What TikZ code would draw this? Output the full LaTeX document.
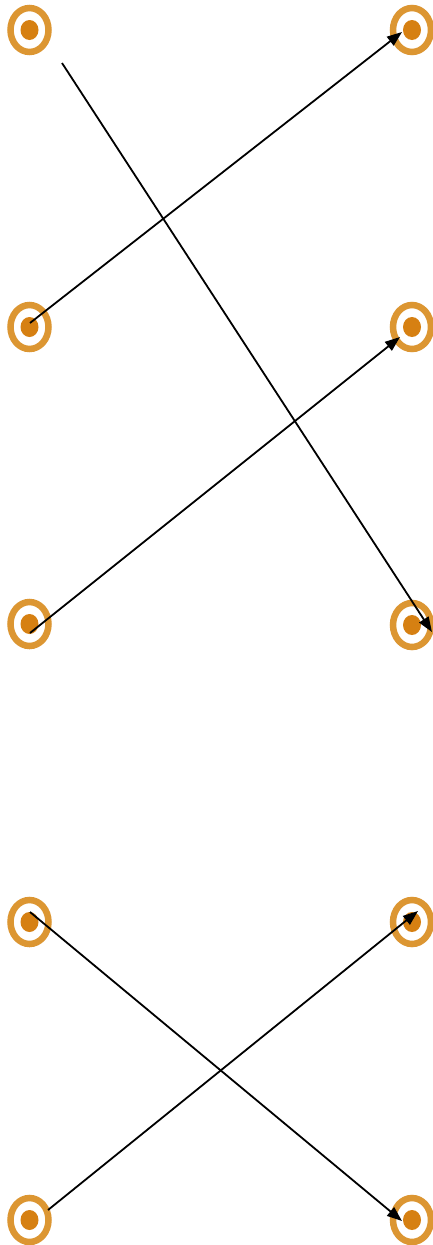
\documentclass[tikz,border=0pt]{standalone}
\usetikzlibrary{shapes.geometric,arrows.meta,calc}
\definecolor{ringc}{RGB}{220,150,50}
\definecolor{dotc}{RGB}{214,128,18}
\begin{document}
\begin{tikzpicture}[x=1pt,y=-1pt,
  target/.style={ellipse,draw=ringc,line width=6.5pt,minimum width=38pt,minimum height=44pt,inner sep=0pt,
    path picture={\fill[dotc] (path picture bounding box.center) ellipse (9pt and 10pt);}},
  conn/.style={line width=1.8pt,-{Triangle[length=15pt,width=11pt]}}]
\useasboundingbox (0,0) rectangle (432,1245);
\fill[white] (0,0) rectangle (432,1245);
\node[target] (L1) at (29.5,30) {};
\node[target] (L2) at (29.5,327) {};
\node[target] (L3) at (29.5,624) {};
\node[target] (L4) at (29.5,922) {};
\node[target] (L5) at (29.5,1220) {};
\node[target] (R1) at (412,30) {};
\node[target] (R2) at (412,327) {};
\node[target] (R3) at (412,625) {};
\node[target] (R4) at (412,922) {};
\node[target] (R5) at (412,1220) {};
\draw[conn] ($(L1.center)+(32.5,33)$) -- ($(R3.center)+(20,7)$);
\draw[conn] ($(L2.center)+(0.5,-4)$) -- ($(R1.center)+(-10,2)$);
\draw[conn] ($(L3.center)+(0.5,9)$) -- ($(R2.center)+(-12,10)$);
\draw[conn] ($(L4.center)+(0.5,-10)$) -- ($(R5.center)+(-10,1)$);
\draw[conn] ($(L5.center)+(18.5,-10)$) -- ($(R4.center)+(6,-11)$);
\end{tikzpicture}
\end{document}
